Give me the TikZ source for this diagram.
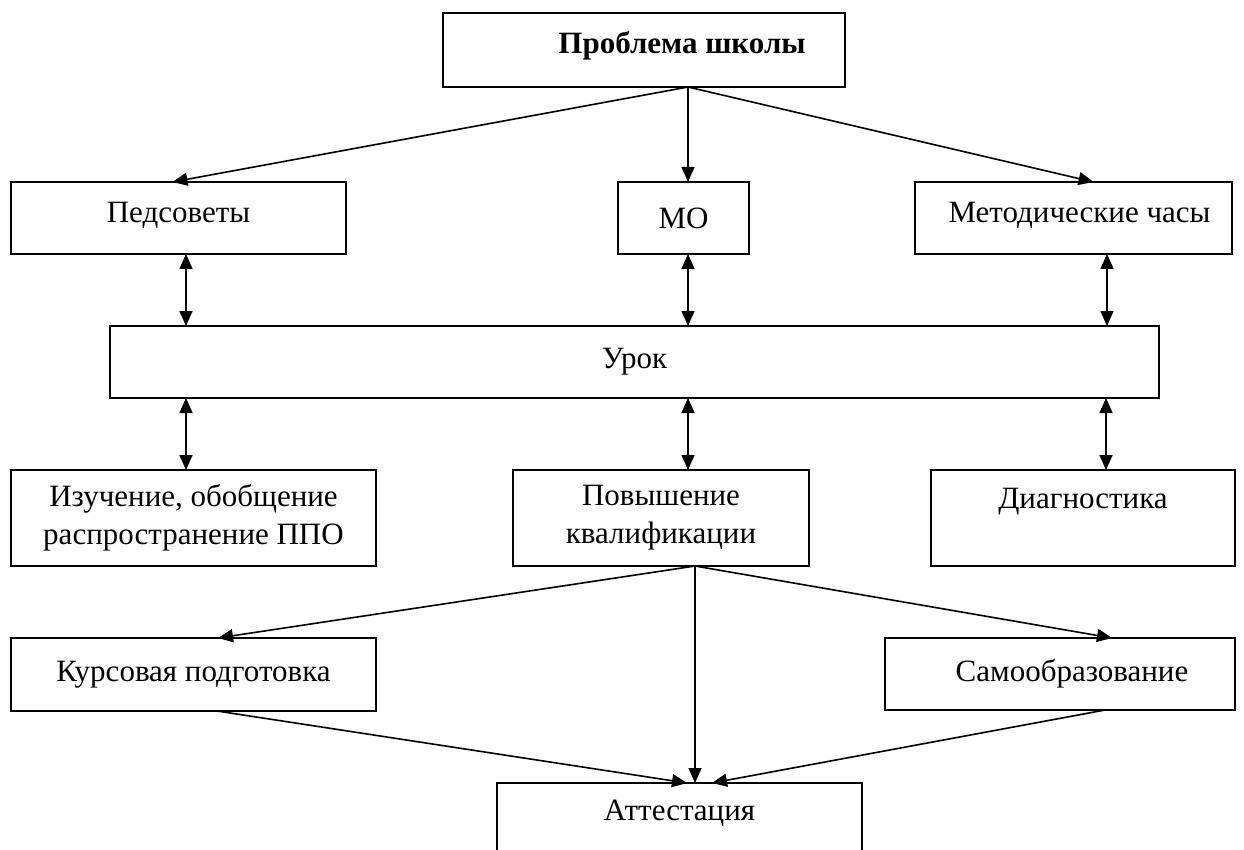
\documentclass[tikz,border=0pt]{standalone}
\usepackage{fontspec}
\setmainfont{Liberation Serif}
\usetikzlibrary{arrows.meta}
\newcommand\mkbox[7][]{\node[box,#1,minimum width={#4-#2},minimum height={#5-#3}] (#6) at ({(#2+#4)/2},{(#3+#5)/2}) {#7};}
\begin{document}
\begin{tikzpicture}[x=1pt,y=-1pt,
  box/.style={draw,line width=1.6pt,inner sep=0pt,outer sep=0pt,align=center,font=\fontsize{31}{38}\selectfont},
  arr/.style={line width=1.6pt,-{Triangle[length=15pt,width=13pt]}},
  dbl/.style={line width=1.6pt,{Triangle[length=15pt,width=13pt]}-{Triangle[length=15pt,width=13pt]}}]
\useasboundingbox (0,0) rectangle (1244,850);
\clip (0,0) rectangle (1244,850);
\mkbox[label={[font=\fontsize{31}{38}\selectfont\bfseries,xshift=38pt,yshift=4pt]center:Проблема школы}]{443}{13}{845}{87}{prob}{}
\mkbox[label={[font=\fontsize{31}{38}\selectfont,yshift=3pt]center:Педсоветы}]{11}{182}{346}{254}{ped}{}
\mkbox{618}{182}{749}{254}{mo}{МО}
\mkbox[label={[font=\fontsize{31}{38}\selectfont,xshift=6pt,yshift=3pt]center:Методические часы}]{915}{182}{1232}{254}{met}{}
\mkbox{110}{326}{1159}{398}{urok}{Урок}
\mkbox{11}{470}{376}{566}{izu}{Изучение, обобщение\\распространение ППО}
\mkbox{513}{470}{809}{566}{pov}{Повышение\\квалификации}
\mkbox[label={[font=\fontsize{31}{38}\selectfont,yshift=16pt]center:Диагностика}]{931}{470}{1235}{566}{diag}{}
\mkbox{11}{638}{376}{711}{kurs}{Курсовая подготовка}
\mkbox[label={[font=\fontsize{31}{38}\selectfont,xshift=12pt]center:Самообразование}]{885}{638}{1235}{710}{samo}{}
\mkbox[label={[font=\fontsize{31}{38}\selectfont,yshift=28pt]center:Аттестация}]{497}{783}{862}{900}{att}{}
% top fan
\coordinate (pb) at ([xshift=44pt]prob.south);
\draw[arr] (pb) -- ([xshift=-6pt]ped.north);
\draw[arr] (pb) -- (pb |- mo.north);
\draw[arr] (pb) -- ([xshift=20pt]met.north);
% double arrows
\draw[dbl] ([xshift=7.5pt]ped.south) -- ([xshift=7.5pt]ped.south |- urok.north);
\draw[dbl] (pb |- mo.south) -- (pb |- urok.north);
\draw[dbl] ([xshift=33.5pt]met.south) -- ([xshift=33.5pt]met.south |- urok.north);
\draw[dbl] ([xshift=-7.5pt]izu.north |- urok.south) -- ([xshift=-7.5pt]izu.north);
\draw[dbl] (pb |- urok.south) -- (pb |- pov.north);
\draw[dbl] ([xshift=23pt]diag.north |- urok.south) -- ([xshift=23pt]diag.north);
% lower fan
\coordinate (pq) at ([xshift=34pt]pov.south);
\draw[arr] (pq) -- ([xshift=24.5pt]kurs.north);
\draw[arr] (pq) -- ([xshift=52pt]samo.north);
\draw[arr] (pq) -- (pq |- att.north);
\draw[arr] ([xshift=23.5pt]kurs.south) -- ([xshift=7.5pt]att.north);
\draw[arr] ([xshift=45pt]samo.south) -- ([xshift=32.5pt]att.north);
\end{tikzpicture}
\end{document}
